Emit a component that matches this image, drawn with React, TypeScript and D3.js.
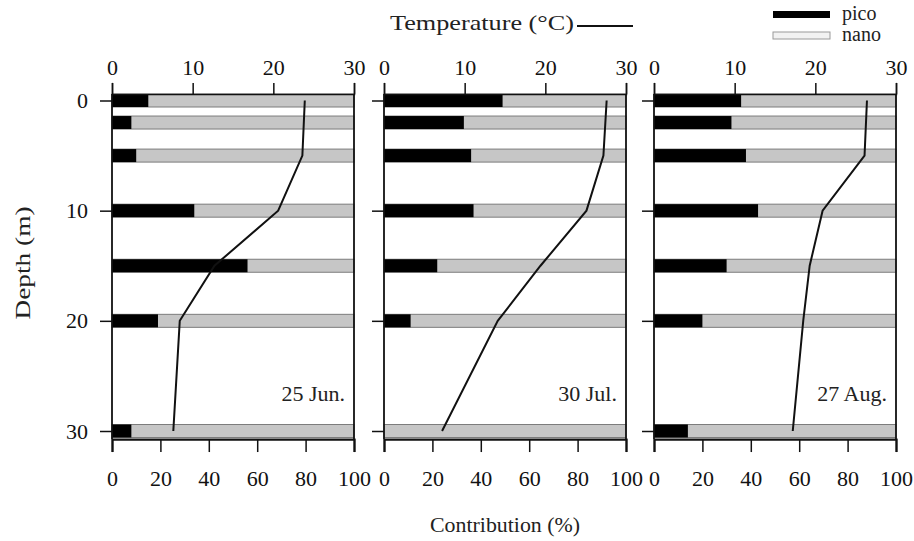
import * as d3 from "d3";
import { useEffect, useRef } from "react";

// sampling depths (m) of the size-fraction bars
const depths = [0, 2, 5, 10, 15, 20, 30];
// pico contribution (%), nano = 100 - pico
const picoJun = [15, 8, 10, 34, 56, 19, 8];
const picoJul = [49, 33, 36, 37, 22, 11, 0];
const picoAug = [36, 32, 38, 43, 30, 20, 14];

// temperature profile
const tempDepths = [0, 5, 10, 15, 20, 30];
const tempJun = [23.9, 23.6, 20.6, 12.7, 8.4, 7.6];
const tempJul = [27.6, 27.2, 25.1, 19.4, 14.1, 7.2];
const tempAug = [26.4, 26.1, 20.9, 19.3, 18.5, 17.2];

const dates = ["25 Jun.", "30 Jul.", "27 Aug."];
const depthTicks = [0, 10, 20, 30];
const tempTicks = [0, 10, 20, 30];
const contribTicks = [0, 20, 40, 60, 80, 100];

export default function App() {
  const ref = useRef<SVGSVGElement>(null);

  useEffect(() => {
    if (!ref.current) return;
    const svg = d3.select(ref.current);
    svg.selectAll("*").remove();

    const width = 914,
      height = 541;
    const font = "Liberation Serif";
    svg.attr("width", width).attr("height", height);

    const panelLefts = [112, 384, 654];
    const panelWidth = 242;

    const y = d3.scaleLinear().domain([0, 30]).range([100.5, 431]);
    const top = y(-0.6),
      bottom = y(30.73);
    const barH = 13;

    const picos = [picoJun, picoJul, picoAug];
    const temps = [tempJun, tempJul, tempAug];

    picos.forEach((pico, i) => {
      const x0 = panelLefts[i];
      const x = d3.scaleLinear().domain([0, 100]).range([x0, x0 + panelWidth]);
      const xt = d3.scaleLinear().domain([0, 30]).range([x0, x0 + panelWidth]);
      const g = svg.append("g");

      // nano bars (full width)
      g.selectAll("rect.nano")
        .data(depths)
        .enter()
        .append("rect")
        .attr("class", "nano")
        .attr("x", x(0))
        .attr("y", (d) => y(d) - barH / 2)
        .attr("width", x(100) - x(0))
        .attr("height", barH)
        .attr("fill", "#c6c6c6")
        .attr("stroke", "#7c7c7c")
        .attr("stroke-width", 1);

      // pico bars
      g.selectAll("rect.pico")
        .data(depths)
        .enter()
        .append("rect")
        .attr("class", "pico")
        .attr("x", x(0))
        .attr("y", (d) => y(d) - barH / 2)
        .attr("width", (d, k) => x(pico[k]) - x(0))
        .attr("height", barH)
        .attr("fill", "#000");

      // temperature profile
      const line = d3
        .line<number>()
        .x((d) => xt(d))
        .y((d, k) => y(tempDepths[k]));
      g.append("path")
        .attr("d", line(temps[i]))
        .attr("fill", "none")
        .attr("stroke", "#111")
        .attr("stroke-width", 2);

      // top axis (temperature)
      const ta = g
        .append("g")
        .attr("transform", `translate(0,${top})`)
        .call(d3.axisTop(xt).tickValues(tempTicks).tickSize(11).tickPadding(8));
      ta.attr("font-size", 22).attr("font-family", font);
      ta.selectAll("text").attr("fill", "#111");
      ta.selectAll("line,path").attr("stroke", "#111").attr("stroke-width", 1.5);

      // bottom axis (contribution)
      const ba = g
        .append("g")
        .attr("transform", `translate(0,${bottom})`)
        .call(d3.axisBottom(x).tickValues(contribTicks).tickSize(13).tickPadding(18));
      ba.attr("font-size", 22).attr("font-family", font);
      ba.selectAll("text").attr("fill", "#111");
      ba.selectAll("line").attr("stroke", "#111").attr("stroke-width", 1.5);
      ba.select("path").attr("stroke", "#111").attr("stroke-width", 2.2);

      // left axis (depth) - labels only on the first panel
      const la = g
        .append("g")
        .attr("transform", `translate(${x0},0)`)
        .call(
          d3
            .axisLeft(y)
            .tickValues(depthTicks)
            .tickSize(12)
            .tickSizeOuter(0)
            .tickPadding(12)
            .tickFormat(i === 0 ? d3.format("d") : () => "")
        );
      la.select("path").remove();
      la.attr("font-size", 22).attr("font-family", font);
      la.selectAll("text").attr("fill", "#111");
      la.selectAll("line").attr("stroke", "#111").attr("stroke-width", 1.5);

      // panel frame sides
      [x0, x0 + panelWidth].forEach((xx) => {
        g.append("line")
          .attr("x1", xx)
          .attr("x2", xx)
          .attr("y1", top)
          .attr("y2", bottom)
          .attr("stroke", "#111")
          .attr("stroke-width", 1.8);
      });

      // date label
      g.append("text")
        .attr("x", x0 + panelWidth - 9)
        .attr("y", y(27.3))
        .attr("text-anchor", "end")
        .attr("font-size", 22)
        .attr("font-family", font)
        .attr("fill", "#222")
        .text(dates[i]);
    });

    // temperature title with line sample
    svg.append("text")
      .attr("x", 390)
      .attr("y", 30)
      .attr("font-size", 22)
      .attr("font-family", font)
      .attr("fill", "#222")
      .attr("textLength", 184)
      .attr("lengthAdjust", "spacingAndGlyphs")
      .text("Temperature (°C)");
    svg.append("line")
      .attr("x1", 577)
      .attr("x2", 633)
      .attr("y1", 26)
      .attr("y2", 26)
      .attr("stroke", "#111")
      .attr("stroke-width", 2);

    // legend
    svg.append("rect")
      .attr("x", 773)
      .attr("y", 11)
      .attr("width", 57)
      .attr("height", 7)
      .attr("fill", "#000");
    svg.append("rect")
      .attr("x", 773)
      .attr("y", 32)
      .attr("width", 57)
      .attr("height", 7)
      .attr("fill", "#f2f2f2")
      .attr("stroke", "#9a9a9a")
      .attr("stroke-width", 1);
    svg.append("text")
      .attr("x", 842)
      .attr("y", 20)
      .attr("font-size", 20)
      .attr("font-family", font)
      .attr("fill", "#222")
      .text("pico");
    svg.append("text")
      .attr("x", 842)
      .attr("y", 41)
      .attr("font-size", 20)
      .attr("font-family", font)
      .attr("fill", "#222")
      .text("nano");

    // axis titles
    svg.append("text")
      .attr("transform", "rotate(-90)")
      .attr("x", -263)
      .attr("y", 30)
      .attr("text-anchor", "middle")
      .attr("font-size", 22)
      .attr("font-family", font)
      .attr("fill", "#222")
      .attr("textLength", 113)
      .attr("lengthAdjust", "spacingAndGlyphs")
      .text("Depth (m)");
    svg.append("text")
      .attr("x", 505)
      .attr("y", 532)
      .attr("text-anchor", "middle")
      .attr("font-size", 22)
      .attr("font-family", font)
      .attr("fill", "#222")
      .attr("textLength", 150)
      .attr("lengthAdjust", "spacingAndGlyphs")
      .text("Contribution (%)");
  }, []);

  return <svg ref={ref} style={{ position: "absolute", left: 0, top: 0, background: "#fff" }} />;
}
